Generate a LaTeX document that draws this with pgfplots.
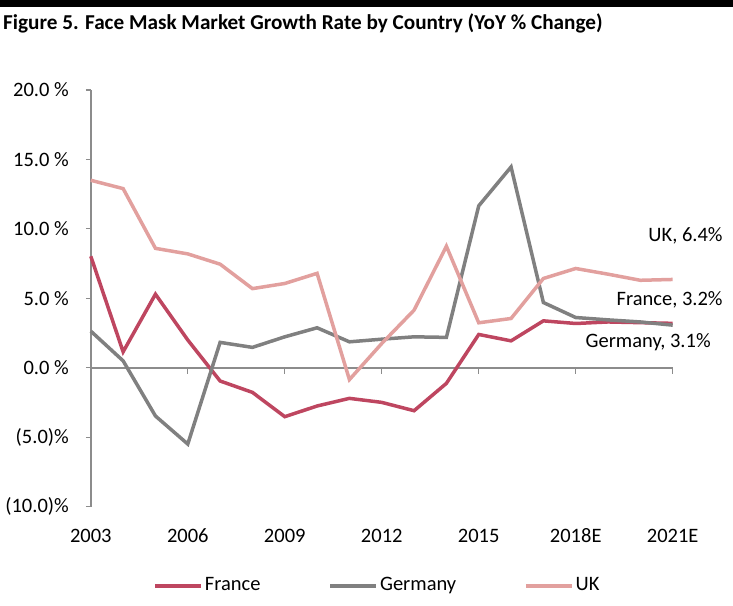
\documentclass[border=0pt]{standalone}
\usepackage{pgfplots}
\pgfplotsset{compat=1.18}
\usepackage{fontspec}
\setmainfont{Carlito}
\definecolor{fr}{RGB}{190,70,96}
\definecolor{de}{RGB}{128,128,128}
\definecolor{uk}{RGB}{226,160,158}
\definecolor{axisgray}{RGB}{140,140,140}
\begin{document}
\fontsize{20.5}{24}\selectfont
\begin{tikzpicture}
\useasboundingbox (0,0) rectangle (733pt,605pt);
\fill[black] (0,598pt) rectangle (733pt,605pt);
\node[anchor=west, font=\fontsize{21.2}{25}\selectfont\bfseries, inner sep=0pt] at (3pt,582pt) {Figure 5. Face Mask Market Growth Rate by Country (YoY \% Change)};
\begin{axis}[
  at={(90.8pt,98.3pt)}, anchor=south west,
  scale only axis, width=581.9pt, height=416.7pt,
  xmin=2003, xmax=2021, ymin=-10, ymax=20,
  axis x line*=bottom, axis y line*=left,
  axis line style={-},
  x axis line style={draw=none},
  y axis line style={axisgray, line width=1.6pt},
  xtick={2003,2006,2009,2012,2015,2018,2021},
  xticklabels={2003,2006,2009,2012,2015,2018E,2021E},
  major x tick style={draw=none},
  xticklabel style={yshift=-10pt},
  ytick={-10,-5,0,5,10,15,20},
  yticklabels={(10.0)\%,(5.0)\%,0.0 \%,5.0 \%,10.0 \%,15.0 \%,20.0 \%},
  ytick style={axisgray, line width=1.2pt},
  tick align=outside, major tick length=5pt,
  yticklabel style={xshift=-10pt},
  /pgf/number format/assume math mode=true,
  clip=false,
  legend columns=3,
  legend style={at={(0.4927,-0.19)}, anchor=center, draw=none, fill=none,
    /tikz/every even column/.append style={column sep=66pt}},
  legend image code/.code={\draw[#1] (0pt,0pt) -- (46pt,0pt);},
]
\draw[axisgray, line width=1.6pt] (axis cs:2003,0) -- (axis cs:2021,0);
\pgfplotsinvokeforeach{2006,2009,2012,2015,2018,2021}{
  \draw[axisgray, line width=1.2pt] (axis cs:#1,0) -- ++(0pt,-6pt);
}
\addplot[fr, line width=3.5pt] coordinates {
(2003,8.03) (2004,1.15) (2005,5.3) (2006,2.0) (2007,-0.95) (2008,-1.77)
(2009,-3.52) (2010,-2.75) (2011,-2.2) (2012,-2.49) (2013,-3.09) (2014,-1.12)
(2015,2.4) (2016,1.94) (2017,3.38) (2018,3.19) (2019,3.3) (2020,3.25) (2021,3.2)};
\addlegendentry{France}
\addplot[de, line width=3.5pt] coordinates {
(2003,2.64) (2004,0.5) (2005,-3.47) (2006,-5.49) (2007,1.83) (2008,1.47)
(2009,2.23) (2010,2.88) (2011,1.87) (2012,2.06) (2013,2.23) (2014,2.19)
(2015,11.66) (2016,14.46) (2017,4.7) (2018,3.62) (2019,3.45) (2020,3.3) (2021,3.07)};
\addlegendentry{Germany}
\addplot[uk, line width=3.5pt] coordinates {
(2003,13.5) (2004,12.9) (2005,8.6) (2006,8.2) (2007,7.46) (2008,5.7)
(2009,6.07) (2010,6.8) (2011,-0.85) (2012,1.75) (2013,4.15) (2014,8.75)
(2015,3.24) (2016,3.55) (2017,6.43) (2018,7.15) (2019,6.74) (2020,6.3) (2021,6.36)};
\addlegendentry{UK}
\node[anchor=east, inner sep=0pt] at (axis cs:2022.55,9.47) {UK, 6.4\%};
\node[anchor=east, inner sep=0pt] at (axis cs:2022.55,4.88) {France, 3.2\%};
\node[anchor=east, inner sep=0pt] at (axis cs:2022.18,1.85) {Germany, 3.1\%};
\end{axis}
\end{tikzpicture}
\end{document}
